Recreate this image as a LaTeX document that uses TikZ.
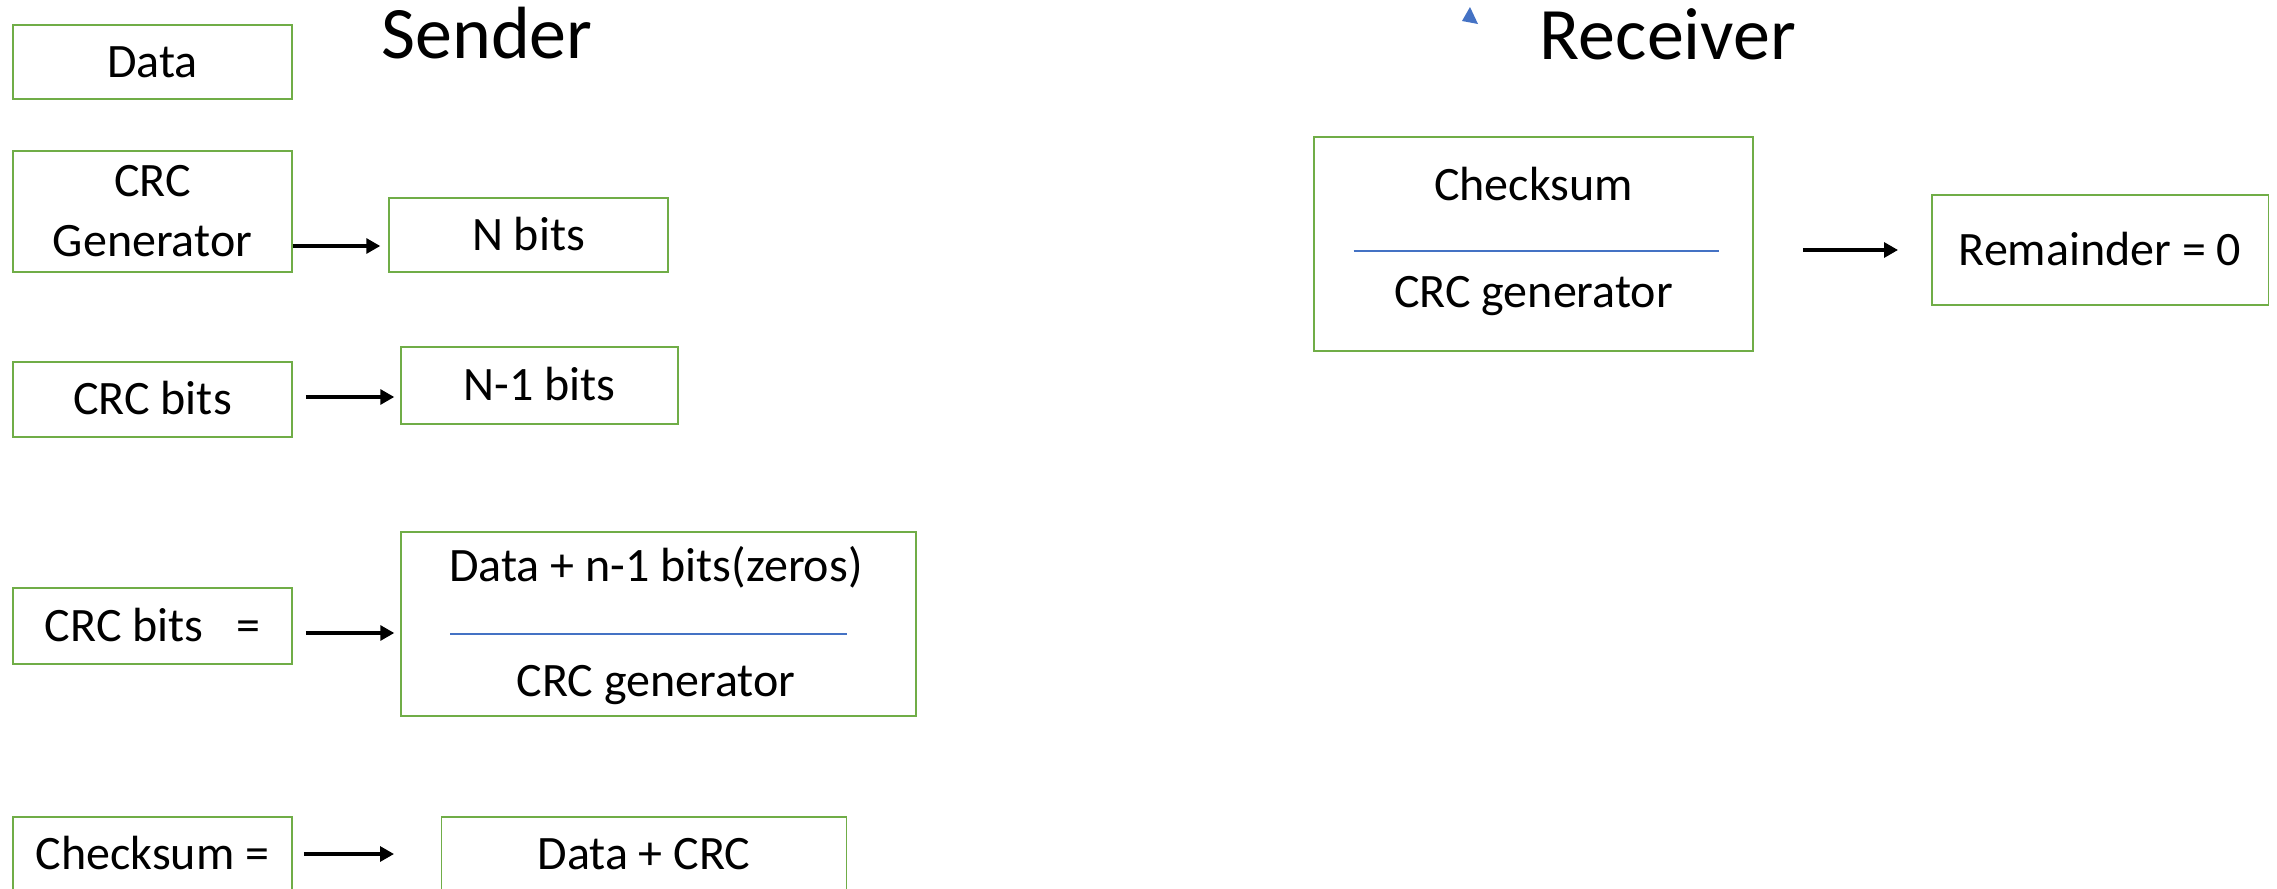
\documentclass[tikz,border=0pt]{standalone}
\usepackage{fontspec}
\setmainfont{Carlito}
\usetikzlibrary{arrows.meta,calc}
\definecolor{boxgreen}{HTML}{70AD47}
\definecolor{ruleblue}{HTML}{4472C4}

\begin{document}
\begin{tikzpicture}[x=0.5pt,y=-0.5pt,
  box/.style={draw=boxgreen, line width=0.75pt, inner sep=0pt, font=\fontsize{24}{30}\selectfont},
  txt/.style={text height=15.2pt, text depth=0pt},
  lbl/.style={font=\fontsize{24}{30}\selectfont, inner sep=0pt, anchor=base},
  heading/.style={font=\fontsize{37}{44}\selectfont, inner sep=0pt, anchor=base},
  arr/.style={line width=1.6pt, -{Triangle[length=7pt,width=7.5pt]}},
  fracrule/.style={draw=ruleblue, line width=0.7pt}]

\fill[white] (0,0) rectangle (2277,889);
\useasboundingbox (0,0) rectangle (2277,889);

% ---------------- Sender ----------------
\node[heading] (sender) at (487,58.5) {Sender};

\node[box,txt,minimum width=139.5pt,minimum height=37pt] (data) at (152.5,62) {Data};
\node[box,align=center,minimum width=139.5pt,minimum height=60.5pt] (gen) at (152.5,211.5) {CRC\\Generator};
\node[box,txt,minimum width=139.5pt,minimum height=37pt] (nbits) at (528.5,235) {N bits};
\node[box,txt,minimum width=139.5pt,minimum height=37.5pt] (crcbits) at (152.5,399.5) {CRC bits};
\node[box,txt,minimum width=138.5pt,minimum height=38.5pt] (n1bits) at (539.5,385.5) {N-1 bits};
\node[box,txt,minimum width=139.5pt,minimum height=38pt] (crceq) at (152.5,626) {CRC bits\ \ \ =};

% division box
\node[box,minimum width=257.5pt,minimum height=92pt] (frac) at (658.5,624) {};
\node[lbl] (num) at (656,581) {Data + n-1 bits(zeros)};
\node[lbl] (den) at (656,696.7) {CRC generator};
\coordinate (fracL) at (450,634);
\coordinate (fracR) at (847,634);
\draw[fracrule] (fracL) -- (fracR);

\node[box,txt,minimum width=139.5pt,minimum height=37pt] (cks) at (152.5,854) {Checksum =};
\node[box,txt,minimum width=202.5pt,minimum height=37pt] (dcrc) at (644,854) {Data + CRC};

% arrow rows
\coordinate (r1) at (0,246);
\coordinate (r2) at (0,397);
\coordinate (r3) at (0,633);
\coordinate (r4) at (0,854);
\coordinate (tip4) at (394,854);

\draw[arr] (gen.east |- r1) -- ($(nbits.west |- r1)+(-8,0)$);
\draw[arr] ($(crcbits.east |- r2)+(13,0)$) -- ($(n1bits.west |- r2)+(-6,0)$);
\draw[arr] ($(crceq.east |- r3)+(13,0)$) -- ($(frac.west |- r3)+(-6,0)$);
\draw[arr] ($(cks.east |- r4)+(11,0)$) -- (tip4);

% ---------------- Receiver ----------------
\node[heading] (receiver) at (1668,59.3) {Receiver};
\fill[ruleblue] (1470,7) -- (1462,21) -- (1478,24) -- cycle;

\node[box,minimum width=219.5pt,minimum height=107pt] (rbox) at (1533.5,244) {};
\node[lbl] (rnum) at (1533.5,200) {Checksum};
\node[lbl] (rden) at (1533.5,307) {CRC generator};
\coordinate (rfracL) at (1353.5,251);
\coordinate (rfracR) at (1719,251);
\draw[fracrule] (rfracL) -- (rfracR);

\node[box,txt,minimum width=168.25pt,minimum height=55pt] (rem) at (2100,250) {Remainder = 0};

\coordinate (r5) at (0,250);
\draw[arr] ($(rbox.east |- r5)+(49,0)$) -- ($(rem.west |- r5)+(-33,0)$);

\end{tikzpicture}
\end{document}
